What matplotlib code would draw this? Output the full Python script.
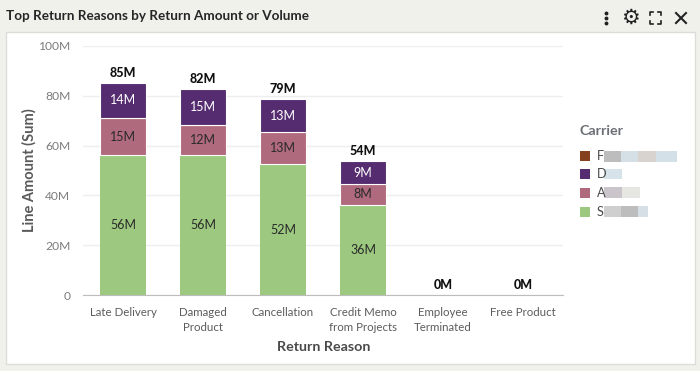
import matplotlib
matplotlib.use('Agg')
import matplotlib.pyplot as plt
from matplotlib.patches import Rectangle
from matplotlib.lines import Line2D

W, H = 700, 371

REASONS = ['Late Delivery', 'Damaged\nProduct', 'Cancellation', 'Credit Memo\nfrom Projects',
           'Employee\nTerminated', 'Free Product']
S_VALUES = [56, 56, 52, 36, 0, 0]
A_VALUES = [15, 12, 13, 8, 0, 0]
D_VALUES = [14, 15, 13, 9, 0, 0]
# bar heights differ slightly from the rounded labels
S_HEIGHTS = [56.3, 56.3, 52.5, 36.3, 0, 0]
A_HEIGHTS = [14.7, 11.8, 12.8, 8.2, 0, 0]
D_HEIGHTS = [14.3, 14.6, 13.3, 9.2, 0, 0]
TOTALS = [85, 82, 79, 54, 0, 0]
YTICKS = [0, 20, 40, 60, 80, 100]
YLABELS = ['0', '20M', '40M', '60M', '80M', '100M']

LEGEND_NAMES = ['F', 'D', 'A', 'S']
LEGEND_COLORS = ['#85401f', '#552c70', '#b06a7e', '#9cc87f']
# redacted parts of the legend names: (start px, end px, colour)
LEGEND_BLUR = [[(604, 621, '#bdbdbd'), (621, 638, '#d5e0e6'), (638, 656, '#d9d3cf'), (656, 677, '#d3e0e8')],
               [(604, 622, '#d6e3ea')],
               [(604, 622, '#c9c5cb'), (622, 640, '#e6e6e2')],
               [(604, 621, '#cfcfcf'), (621, 638, '#bdbdbd'), (638, 648, '#d6dfe5')]]
LEGEND_Y = [156, 174, 193, 212]

plt.rcParams['font.family'] = ['Lato', 'DejaVu Sans']


def fx(px):
    return px / W


def fy(px):
    return 1 - px / H


fig = plt.figure(figsize=(7, 3.71), dpi=100, facecolor='#f1f1ec')

# white panel, has to stay under the axes
fig.add_artist(Rectangle((fx(6), fy(364)), fx(689), 332 / H, transform=fig.transFigure,
                         facecolor='white', edgecolor='#dcdcd8', linewidth=1, zorder=-1))

ax = fig.add_axes([fx(83), fy(295), 480 / W, 249 / H])
ax.patch.set_alpha(0)
x = range(len(REASONS))
bar_w = 0.575
bottom_a = S_HEIGHTS
bottom_d = [s + a for s, a in zip(S_HEIGHTS, A_HEIGHTS)]
tops = [b + d for b, d in zip(bottom_d, D_HEIGHTS)]

ax.bar(x, S_HEIGHTS, bar_w, color=LEGEND_COLORS[3], zorder=3)
ax.bar(x, A_HEIGHTS, bar_w, bottom=bottom_a, color=LEGEND_COLORS[2], edgecolor='white', linewidth=0.8, zorder=3)
ax.bar(x, D_HEIGHTS, bar_w, bottom=bottom_d, color=LEGEND_COLORS[1], edgecolor='white', linewidth=0.8, zorder=3)

for i in x:
    if S_VALUES[i] > 0:
        ax.text(i, S_HEIGHTS[i] / 2, '%dM' % S_VALUES[i], ha='center', va='center', fontsize=9, color='#2a2a2a', zorder=4)
        ax.text(i, bottom_a[i] + A_HEIGHTS[i] / 2, '%dM' % A_VALUES[i], ha='center', va='center', fontsize=9, color='#2a2a2a', zorder=4)
        ax.text(i, bottom_d[i] + D_HEIGHTS[i] / 2, '%dM' % D_VALUES[i], ha='center', va='center', fontsize=9, color='white', zorder=4)
    ax.text(i, tops[i] + 1.6, '%dM' % TOTALS[i], ha='center', va='bottom', fontsize=9, fontweight='black', color='#111111', zorder=4)

ax.set_xlim(-0.5, 5.5)
ax.set_ylim(0, 100)
ax.set_yticks(YTICKS)
ax.set_yticklabels(YLABELS, fontsize=8.7, color='#7b7b7b')
ax.set_xticks(list(x))
ax.set_xticklabels(REASONS, fontsize=8.3, color='#5c5c5c', linespacing=1.4)
ax.tick_params(axis='both', length=0)
ax.tick_params(axis='x', pad=9)
ax.tick_params(axis='y', pad=9)
ax.grid(axis='y', color='#eeeeee', linewidth=1, zorder=0)
ax.set_axisbelow(True)
for name in ['top', 'right', 'left']:
    ax.spines[name].set_visible(False)
ax.spines['bottom'].set_color('#bdbdbd')

fig.text(fx(29), fy(170), 'Line Amount (Sum)', rotation=90, ha='center', va='center',
         fontsize=10.5, fontweight='bold', color='#5a5a5a')
fig.text(fx(323.5), fy(347), 'Return Reason', ha='center', va='center',
         fontsize=10.3, fontweight='bold', color='#4a4a4a')
fig.text(fx(6), fy(16), 'Top Return Reasons by Return Amount or Volume', ha='left', va='center',
         fontsize=9.75, fontweight='bold', color='#262626')

# legend
fig.text(fx(580), fy(131), 'Carrier', ha='left', va='center', fontsize=10.3, fontweight='bold', color='#6b6f76')
for name, col, y, blur in zip(LEGEND_NAMES, LEGEND_COLORS, LEGEND_Y, LEGEND_BLUR):
    fig.add_artist(Rectangle((fx(580), fy(y + 5)), 10 / W, 10 / H, transform=fig.transFigure, facecolor=col, edgecolor='none'))
    for x0, x1, c in blur:
        fig.add_artist(Rectangle((fx(x0), fy(y + 5.5)), (x1 - x0) / W, 11 / H, transform=fig.transFigure, facecolor=c, edgecolor='none'))
    fig.text(fx(596.5), fy(y), name, ha='left', va='center', fontsize=9.2, color='#4a4a4a')

# header icons
for y in [13, 18, 23]:
    fig.add_artist(Line2D([fx(606)], [fy(y)], marker='o', markersize=1.8, color='#222222', transform=fig.transFigure))
fig.text(fx(630), fy(18), '\u2699', ha='center', va='center', fontsize=15, color='#222222', family='DejaVu Sans')
for sx, sy in [(650, 12), (661, 12), (650, 24), (661, 24)]:
    dx = 3 if sx == 650 else -3
    dy = 3 if sy == 12 else -3
    fig.add_artist(Line2D([fx(sx + dx), fx(sx), fx(sx)], [fy(sy), fy(sy), fy(sy + dy)],
                          color='#222222', linewidth=1.2, transform=fig.transFigure))
fig.add_artist(Line2D([fx(676), fx(686)], [fy(13), fy(23)], color='#222222', linewidth=1.5, transform=fig.transFigure))
fig.add_artist(Line2D([fx(676), fx(686)], [fy(23), fy(13)], color='#222222', linewidth=1.5, transform=fig.transFigure))

fig.savefig('out.png', dpi=100, facecolor=fig.get_facecolor())
